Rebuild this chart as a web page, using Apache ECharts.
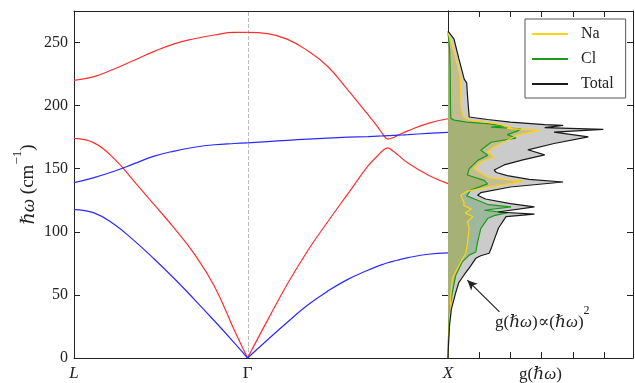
<!DOCTYPE html>
<html><head><meta charset="utf-8">
<script src="https://cdn.jsdelivr.net/npm/echarts@6/dist/echarts.min.js"></script>
<style>html,body{margin:0;padding:0;background:#fff}#c{width:635px;height:383px}</style>
</head><body><div id="c"></div>
<script>
// ---- Data ----
const pathLabels = ['L', 'Γ', 'X'];
const pathPos = [0, 0.866, 1.866];
const yTicks = [0, 50, 100, 150, 200, 250];
const gTicks = [1, 2, 3, 4, 5];

const kLG = [0, 0.1, 0.2, 0.3, 0.4, 0.5, 0.6, 0.7, 0.8, 0.866];
const loLG = [220, 223, 229, 236, 243, 249, 253, 256, 258, 258];
const toLG = [139, 143, 148, 154, 160, 164, 167, 169, 170, 170.5];
const laLG = [174, 170.5, 158, 140, 121.5, 103, 82.5, 57, 22, 0];
const taLG = [117.6, 115, 106, 93, 78.5, 63, 46.5, 29.5, 12, 0];

const kGX = [0.866, 0.966, 1.066, 1.166, 1.266, 1.366, 1.466, 1.516, 1.541, 1.566, 1.591, 1.616, 1.666, 1.766, 1.866];
const loGX = [258, 257, 252.5, 243.5, 231, 212.5, 193, 183, 177.5, 173.5, 174.5, 176.5, 180, 186, 189.6];
const laGX = [0, 30, 59, 85, 108, 130, 152, 160.5, 164.5, 166.5, 164, 161, 154.5, 145, 138.2];
const toGX = [170.5, 171.5, 172.5, 173.5, 174.3, 175, 175.5, 175.8, 176, 176.2, 176.4, 176.6, 177, 178, 178.8];
const taGX = [0, 14.5, 28.5, 42, 53, 62.3, 69.5, 72.8, 74.2, 75.5, 76.6, 77.6, 79.5, 82.2, 83.3];

// DOS: [g, hbar-omega]
const dosTotal = [[0,0],[0.02,13],[0.05,26],[0.11,39],[0.25,52],[0.35,60],[0.52,66],[0.7,72],[0.89,79],[1.05,81],[1.32,83],[1.4,88],[1.5,95],[1.62,103],[1.86,112],[2.77,114],[1.6,115.7],[2.77,119.7],[2.0,122.4],[1.2,126],[0.95,129],[1.05,131],[2.0,135.5],[3.69,139.5],[2.6,141.5],[1.9,144.5],[1.55,147],[1.48,149],[1.8,153],[2.4,157],[3.1,161],[2.56,165],[3.4,170],[4.5,175.2],[3.4,179],[4.98,181.2],[3.1,182.5],[3.69,184.3],[3.1,185],[2.0,187],[1.27,189],[0.68,191],[0.65,200],[0.62,210],[0.6,218],[0.52,221],[0.35,237],[0.19,253],[0,259]];
const dosNa = [[0,0],[0.02,13],[0.04,26],[0.07,40],[0.09,50],[0.14,63],[0.3,71],[0.45,78],[0.57,83],[0.62,90],[0.68,103],[0.62,108],[0.8,112],[0.55,115],[0.75,118],[0.5,121],[0.52,123],[0.41,129],[0.6,132],[1.05,134.2],[2.4,140],[1.3,143],[0.84,150],[1.05,155.3],[1.48,159.3],[1.27,163.2],[1.48,167.2],[2.2,176.4],[2.94,180.4],[1.9,182],[2.02,183],[1.5,186],[0.73,188.3],[0.5,191],[0.42,199],[0.39,224],[0.3,232],[0.22,240],[0.1,250],[0,258]];
const dosCl = [[0,0],[0.01,13],[0.03,26],[0.06,40],[0.14,52],[0.25,65.6],[0.46,76.2],[0.68,81.5],[0.89,84],[0.95,92],[1.05,102.6],[1.27,110.5],[1.5,113],[1.9,115],[1.16,117.1],[2.02,119.7],[1.3,121.5],[0.95,125],[0.6,128.5],[0.73,133],[1.27,138],[1.16,140.8],[0.62,145],[0.68,150],[0.95,156.6],[1.27,160.6],[1.05,164.6],[1.38,171],[2.18,174.3],[1.9,177],[2.24,180],[2.34,181.7],[1.38,183],[1.8,184],[1.27,185.7],[0.6,187],[0.2,188.5],[0.09,190],[0.08,200],[0.07,230],[0.05,245],[0,258]];

// ---- Chart ----
const FONT = '"Liberation Serif", "DejaVu Serif", serif';
const RED = '#ff2e2e', BLUE = '#2a2aff';
const zip = (xs, ys) => xs.map((x, i) => [x, ys[i]]);

function disp(name, xs, ys, color) {
  return { type: 'line', name: name, xAxisIndex: 0, yAxisIndex: 0, data: zip(xs, ys),
    showSymbol: false, symbol: 'none', smooth: 0.45, z: 5,
    lineStyle: { color: color, width: 1.2 }, itemStyle: { color: color } };
}
function poly(points, fill, z) {
  return { type: 'custom', xAxisIndex: 2, yAxisIndex: 2, data: points, z: z, silent: true,
    renderItem: function (params, api) {
      if (params.dataIndex !== 0) return null;
      const pts = [api.coord([0, points[0][1]])]
        .concat(points.map(p => api.coord(p)))
        .concat([api.coord([0, points[points.length - 1][1]])]);
      return { type: 'polygon', shape: { points: pts }, style: { fill: fill, stroke: null } };
    } };
}
function dosLine(name, pts, color, extra) {
  return Object.assign({ type: 'line', name: name, xAxisIndex: 2, yAxisIndex: 2, data: pts,
    showSymbol: false, symbol: 'none', z: 6,
    lineStyle: { color: color, width: 1.2 }, itemStyle: { color: color } }, extra || {});
}

const axisLine = { show: true, onZero: false, lineStyle: { color: '#222', width: 1 } };
const noLabel = { show: false };
const yTickIn = { show: true, inside: true, length: 6, customValues: yTicks, lineStyle: { color: '#222' } };
const gTickIn = { show: true, inside: true, length: 6, customValues: gTicks, lineStyle: { color: '#222' } };

const dispSeries = [
  disp('LO1', kLG, loLG, RED), disp('LO2', kGX, loGX, RED),
  disp('LA1', kLG, laLG, RED), disp('LA2', kGX, laGX, RED),
  disp('TO1', kLG, toLG, BLUE), disp('TO2', kGX, toGX, BLUE),
  disp('TA1', kLG, taLG, BLUE), disp('TA2', kGX, taGX, BLUE)
];
dispSeries[0].markLine = { silent: true, symbol: ['none', 'none'], label: { show: false },
  lineStyle: { type: 'dashed', color: '#bbbbbb', width: 1 }, data: [{ xAxis: pathPos[1] }] };

const option = {
  animation: false,
  backgroundColor: '#fff',
  grid: [
    { left: 74, right: 187, top: 11, bottom: 25, containLabel: false, outerBoundsMode: 'none' },
    { left: 448, right: 2, top: 11, bottom: 25, containLabel: false, outerBoundsMode: 'none' }
  ],
  xAxis: [
    { type: 'value', gridIndex: 0, min: 0, max: pathPos[2], position: 'bottom', axisLine: axisLine,
      splitLine: { show: false }, axisTick: { show: false },
      axisLabel: { customValues: pathPos, margin: 7, fontFamily: FONT, fontSize: 17, color: '#222',
        formatter: v => { const i = pathPos.findIndex(p => Math.abs(p - v) < 1e-6); const t = i >= 0 ? pathLabels[i] : '';
          return t === 'Γ' ? '{n|' + t + '}' : '{i|' + t + '}'; },
        rich: { i: { fontStyle: 'italic', fontFamily: FONT, fontSize: 17, color: '#222' },
                n: { fontFamily: FONT, fontSize: 17, color: '#222' } } } },
    { type: 'value', gridIndex: 0, min: 0, max: pathPos[2], position: 'top', axisLine: axisLine,
      splitLine: { show: false }, axisTick: { show: false }, axisLabel: noLabel },
    { type: 'value', gridIndex: 1, min: 0, max: 5.93, interval: 1, position: 'bottom', axisLine: axisLine,
      splitLine: { show: false }, axisTick: gTickIn, axisLabel: noLabel,
      name: '{n|g(}{i|ℏω}{n|)}', nameLocation: 'middle', nameGap: 8, nameMoveOverlap: false,
      nameTextStyle: { fontFamily: FONT, fontSize: 17, color: '#222',
        rich: { n: { fontFamily: FONT, fontSize: 17, color: '#222' }, i: { fontFamily: FONT, fontSize: 17, fontStyle: 'italic', color: '#222' } } } },
    { type: 'value', gridIndex: 1, min: 0, max: 5.93, interval: 1, position: 'top', axisLine: axisLine,
      splitLine: { show: false }, axisTick: gTickIn, axisLabel: noLabel }
  ],
  yAxis: [
    { type: 'value', gridIndex: 0, min: 0, max: 275, interval: 50, position: 'left', axisLine: axisLine,
      splitLine: { show: false }, axisTick: yTickIn,
      axisLabel: { margin: 6, fontFamily: FONT, fontSize: 16, color: '#222',
        formatter: v => (yTicks.indexOf(v) >= 0 ? String(v) : '') },
      name: '{i|ℏω}{n| (cm}{s|−1}{n|)}', nameLocation: 'middle', nameRotate: 90, nameGap: 36, nameMoveOverlap: false,
      nameTextStyle: { fontFamily: FONT, fontSize: 19, color: '#222',
        rich: { i: { fontFamily: FONT, fontSize: 19, fontStyle: 'italic', color: '#222', lineHeight: 27, verticalAlign: 'bottom' },
                n: { fontFamily: FONT, fontSize: 19, color: '#222', lineHeight: 27, verticalAlign: 'bottom' },
                s: { fontFamily: FONT, fontSize: 13, color: '#222', lineHeight: 27, verticalAlign: 'top' } } } },
    { type: 'value', gridIndex: 0, min: 0, max: 275, interval: 50, position: 'right', axisLine: axisLine,
      splitLine: { show: false }, axisTick: yTickIn, axisLabel: noLabel },
    { type: 'value', gridIndex: 1, min: 0, max: 275, interval: 50, position: 'left', axisLine: axisLine,
      splitLine: { show: false }, axisTick: yTickIn, axisLabel: noLabel },
    { type: 'value', gridIndex: 1, min: 0, max: 275, interval: 50, position: 'right', axisLine: axisLine,
      splitLine: { show: false }, axisTick: yTickIn, axisLabel: noLabel }
  ],
  legend: {
    data: ['Na', 'Cl', 'Total'], orient: 'vertical', left: 525, top: 19,
    backgroundColor: '#fff', borderColor: '#555', borderWidth: 1, borderRadius: 0,
    padding: [7, 12, 6, 7], itemGap: 9, icon: 'rect', itemWidth: 36, itemHeight: 2,
    textStyle: { fontFamily: FONT, fontSize: 16, color: '#222', padding: [0, 0, 0, 8] }
  },
  graphic: [
    { type: 'text', left: 495, top: 305, z: 20,
      style: { text: '{n|g(}{i|ℏω}{n|)∝(}{i|ℏω}{n|)}{s|2}',
        rich: { n: { fontFamily: FONT, fontSize: 17, fill: '#222', lineHeight: 26, verticalAlign: 'bottom' },
                i: { fontFamily: FONT, fontSize: 17, fontStyle: 'italic', fill: '#222', lineHeight: 26, verticalAlign: 'bottom' },
                s: { fontFamily: FONT, fontSize: 12, fill: '#222', lineHeight: 26, verticalAlign: 'top' } } } }
  ],
  series: dispSeries.concat([
    poly(dosTotal, '#cbcbcb', 1),
    poly(dosCl, 'rgba(0,120,0,0.22)', 2),
    poly(dosNa, 'rgba(180,165,40,0.35)', 3),
    dosLine('Total', dosTotal, '#1a1a1a', { z: 7,
      markLine: { silent: true, symbol: ['none', 'arrow'], symbolSize: [7, 10], label: { show: false },
        lineStyle: { color: '#222', width: 1.2, type: 'solid' },
        data: [[{ coord: [1.65, 36.6] }, { coord: [0.62, 61.7] }]] } }),
    dosLine('Cl', dosCl, '#1c9a1c'),
    dosLine('Na', dosNa, '#ffd21a')
  ])
};
echarts.init(document.getElementById('c')).setOption(option);
</script></body></html>
